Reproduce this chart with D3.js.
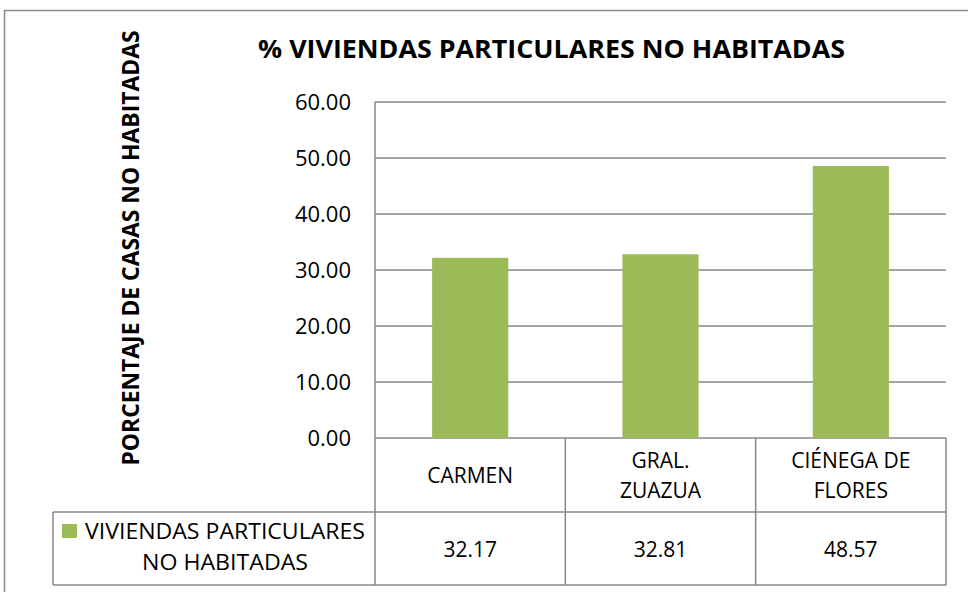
<!DOCTYPE html>
<html><head><meta charset="utf-8">
<script src="https://cdn.jsdelivr.net/npm/d3@7"></script>
<style>body{margin:0;background:#fff}svg{display:block}text{font-family:"Open Sans",sans-serif;fill:#000}</style>
</head><body><svg id="c" width="968" height="592"></svg>
<script>
const categories = [["CARMEN"], ["GRAL.", "ZUAZUA"], ["CIÉNEGA DE", "FLORES"]];
const values = [32.17, 32.81, 48.57];
const valueLabels = ["32.17", "32.81", "48.57"];
const yTicks = [0, 10, 20, 30, 40, 50, 60];
const seriesName = ["VIVIENDAS PARTICULARES", "NO HABITADAS"];
const title = "% VIVIENDAS PARTICULARES NO HABITADAS";
const yTitle = "PORCENTAJE DE CASAS NO HABITADAS";

const svg = d3.select("#c");
const L = 375, R = 946, T = 102, B = 438;
const row1 = 512, row2 = 585, legLeft = 53;
const grid = "#878787", green = "#9BBB59";

// outer frame
svg.append("rect").attr("x", 4.5).attr("y", 10.5).attr("width", 980).attr("height", 600)
  .attr("fill", "none").attr("stroke", "#8c8c8c").attr("stroke-width", 1.5);

const x = d3.scaleBand().domain(d3.range(values.length)).range([L, R]).paddingInner(0.6).paddingOuter(0.3);
const xCell = d3.scaleBand().domain(d3.range(values.length)).range([L, R]);
const y = d3.scaleLinear().domain([0, 60]).range([B, T]);

// gridlines
svg.append("g").selectAll("line").data(yTicks).join("line")
  .attr("x1", L).attr("x2", R).attr("y1", d => y(d)).attr("y2", d => y(d))
  .attr("stroke", grid).attr("stroke-width", 1.5);

// y axis tick labels
const yAxis = d3.axisLeft(y).tickValues(yTicks).tickFormat(d3.format(".2f")).tickSize(0).tickPadding(24);
const ya = svg.append("g").attr("transform", `translate(${L},0)`).call(yAxis);
ya.select(".domain").remove();
ya.selectAll("text").style("font-family", '"Open Sans",sans-serif').style("font-size", "22px").attr("fill", "#000").attr("dy", "0.36em");

// bars
svg.append("g").selectAll("rect").data(values).join("rect")
  .attr("x", (d, i) => x(i)).attr("width", x.bandwidth())
  .attr("y", d => y(d)).attr("height", d => y(0) - y(d)).attr("fill", green);

// table lines
const tl = svg.append("g").attr("stroke", grid).attr("stroke-width", 1.5).attr("fill", "none");
tl.append("line").attr("x1", L).attr("x2", L).attr("y1", T).attr("y2", row2);
tl.append("line").attr("x1", R).attr("x2", R).attr("y1", B).attr("y2", row2);
tl.append("line").attr("x1", legLeft).attr("x2", R).attr("y1", row1).attr("y2", row1);
tl.append("line").attr("x1", legLeft).attr("x2", R).attr("y1", row2).attr("y2", row2);
tl.append("line").attr("x1", legLeft).attr("x2", legLeft).attr("y1", row1).attr("y2", row2);
tl.selectAll("line.div").data(d3.range(1, values.length)).join("line").attr("class", "div")
  .attr("x1", i => xCell(i)).attr("x2", i => xCell(i)).attr("y1", B).attr("y2", row2);

// category labels
const cat = svg.append("g").selectAll("text").data(categories).join("text")
  .attr("text-anchor", "middle").style("font-size", "21px");
cat.each(function(lines, i) {
  const t = d3.select(this);
  const cy = (B + row1) / 2;
  const lh = 30;
  const start = cy - (lines.length - 1) * lh / 2 + 8;
  lines.forEach((s, k) => t.append("tspan").attr("x", xCell(i) + xCell.bandwidth() / 2).attr("y", start + k * lh).text(s));
});

// values row
svg.append("g").selectAll("text").data(valueLabels).join("text")
  .attr("text-anchor", "middle").style("font-size", "21px")
  .attr("x", (d, i) => xCell(i) + xCell.bandwidth() / 2).attr("y", 557).text(d => d);

// legend
svg.append("rect").attr("x", 62).attr("y", 524).attr("width", 15).attr("height", 14).attr("fill", green);
svg.append("text").attr("x", 85).attr("y", 539).style("font-size", "21px")
  .attr("textLength", 280).attr("lengthAdjust", "spacingAndGlyphs").text(seriesName[0]);
svg.append("text").attr("x", 225).attr("y", 570).attr("text-anchor", "middle").style("font-size", "21px")
  .attr("textLength", 166).attr("lengthAdjust", "spacingAndGlyphs").text(seriesName[1]);

// title
svg.append("text").attr("x", 258).attr("y", 58).style("font-size", "25px").style("font-weight", "bold")
  .attr("textLength", 587).attr("lengthAdjust", "spacingAndGlyphs").text(title);

// y title
svg.append("text").attr("transform", "translate(139,248) rotate(-90)").attr("text-anchor", "middle")
  .style("font-size", "24px").style("font-weight", "bold")
  .attr("textLength", 435).attr("lengthAdjust", "spacingAndGlyphs").text(yTitle);
</script></body></html>
